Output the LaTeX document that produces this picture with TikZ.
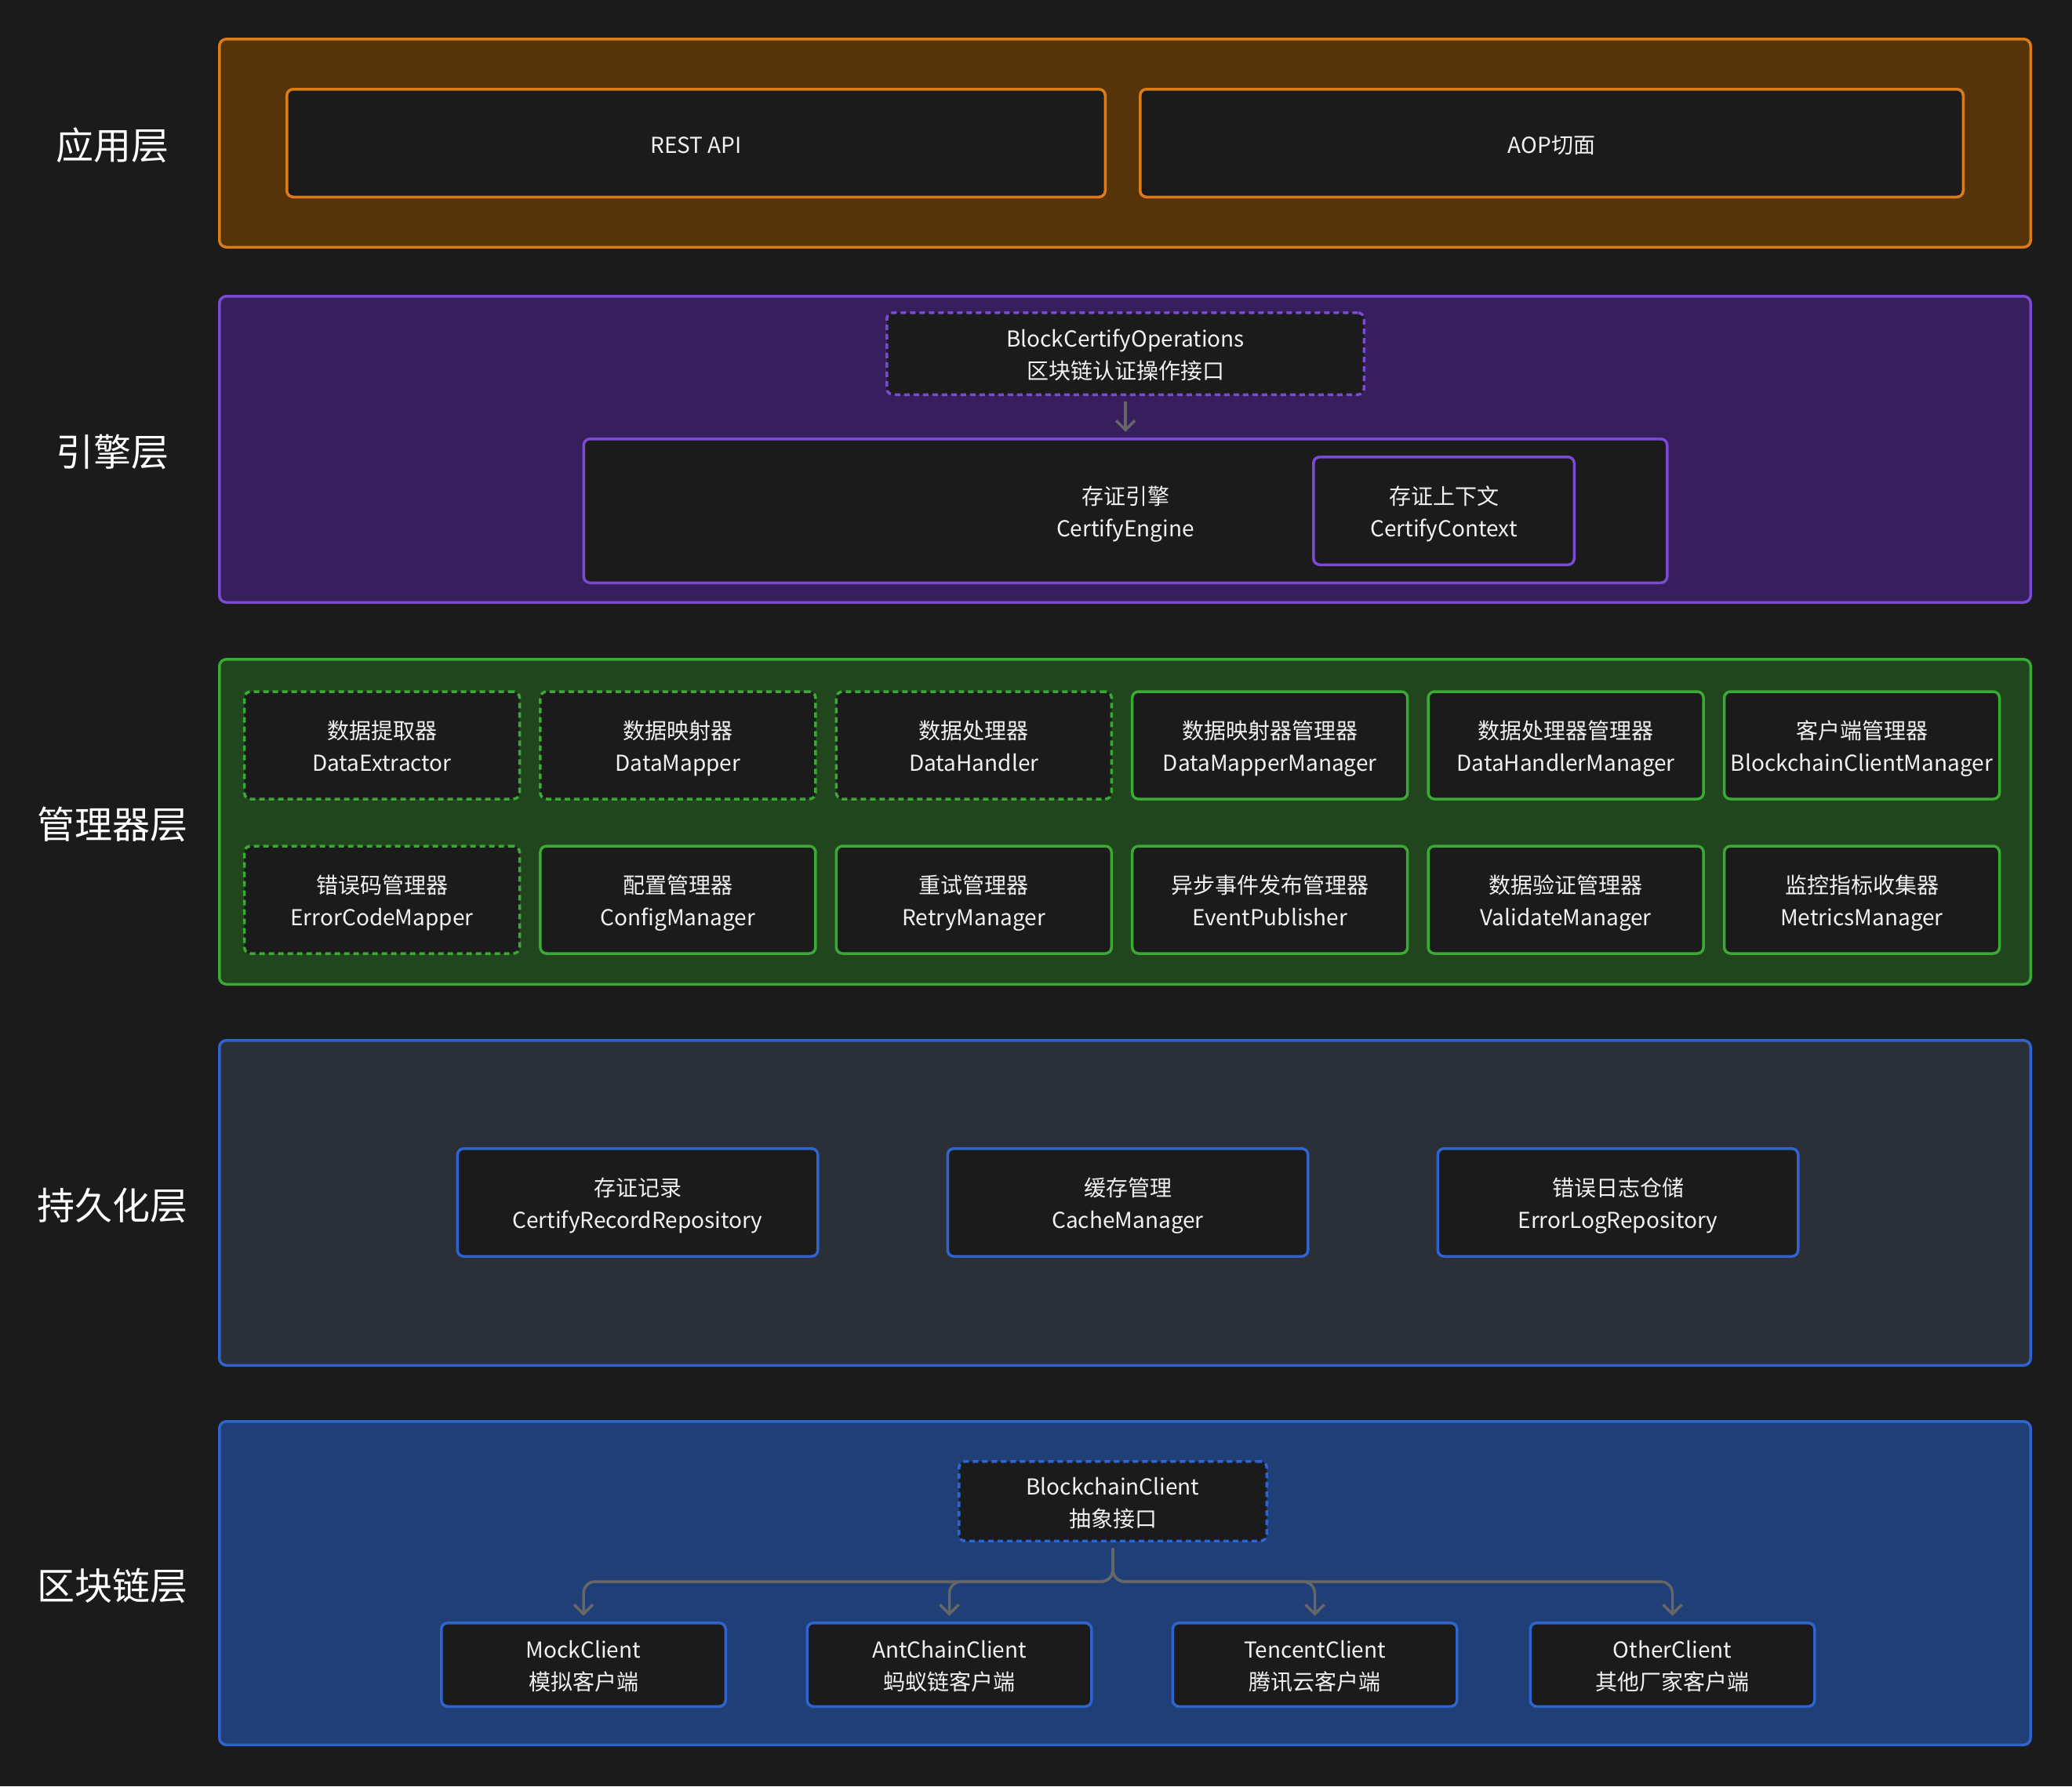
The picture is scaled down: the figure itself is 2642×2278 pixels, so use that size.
\documentclass[tikz,border=0pt]{standalone}
\usepackage{fontspec}
\setmainfont{Noto Sans CJK SC}
\usepackage{tikz}
\usetikzlibrary{positioning, arrows.meta}
\definecolor{bgdark}{HTML}{1B1B1B}
\definecolor{boxbg}{HTML}{1B1B1B}
\definecolor{boxtext}{HTML}{F2F2F2}
\definecolor{appline}{HTML}{DB7C18}
\definecolor{appfill}{HTML}{56340A}
\definecolor{engline}{HTML}{7B4AD2}
\definecolor{engfill}{HTML}{371E5D}
\definecolor{mgrline}{HTML}{3AAA35}
\definecolor{mgrfill}{HTML}{21461E}
\definecolor{bluline}{HTML}{2F63CD}
\definecolor{perfill}{HTML}{2B2F38}
\definecolor{chfill}{HTML}{213F77}
\definecolor{linkgray}{HTML}{666666}
\newcommand{\boxfont}{\fontsize{28}{41}\selectfont}
\newcommand{\tagfont}{\fontsize{48}{56}\selectfont}

\begin{document}
\begin{tikzpicture}
        [
            x=1pt, y=-1pt,
            layer/.style={rectangle, rounded corners=9pt, line width=3.5pt,
                          minimum width=2309.5pt, outer sep=0pt},
            box/.style={rectangle, rounded corners=8pt, line width=3.5pt,
                        fill=boxbg, text=boxtext, align=center, font=\boxfont,
                        inner sep=0pt, outer sep=0pt,
                        execute at begin node={\rule{0pt}{#1}},
                        execute at end node={\rule[-10pt]{0pt}{0pt}}},
            box/.default=75.4pt,
            dashedge/.style={dash pattern=on 7pt off 5pt},
            mgr/.style={box, draw=mgrline, minimum width=351pt, minimum height=137pt},
            repo/.style={box, draw=bluline, minimum width=459.5pt, minimum height=137.5pt},
            client/.style={box, draw=bluline, minimum width=362.5pt, minimum height=106.5pt},
            tag/.style={text=white, font=\tagfont, inner sep=0pt,
                        execute at begin node={\rule{0pt}{50.4pt}},
                        execute at end node={\rule[-8pt]{0pt}{0pt}}},
            link/.style={draw=linkgray, line width=3.5pt,
                         -{Straight Barb[length=12pt, width=24pt]},
                         shorten <=9pt, shorten >=9pt, rounded corners=15pt}
        ]
        \fill [bgdark] (0,0) rectangle (2642,2278);
        \useasboundingbox (0,0) rectangle (2642,2278);

        \node (appl) [layer, draw=appline, fill=appfill, minimum height=265.5pt] at (1434.5,182.5) {};
        \node (engl) [layer, draw=engline, fill=engfill, minimum height=390.5pt] at (1434.5,573) {};
        \node (mgrl) [layer, draw=mgrline, fill=mgrfill, minimum height=414.5pt] at (1434.5,1048) {};
        \node (perl) [layer, draw=bluline, fill=perfill, minimum height=414.5pt] at (1434.5,1534) {};
        \node (chl) [layer, draw=bluline, fill=chfill, minimum height=412.5pt] at (1434.5,2019) {};

        \node (appt) [tag] at (143,182.5) {应用层};
        \node (engt) [tag] at (143,573) {引擎层};
        \node (mgrt) [tag] at (143,1048) {管理器层};
        \node (pert) [tag] at (143,1534) {持久化层};
        \node (cht) [tag] at (143,2019) {区块链层};

        \node (rest) [box=35pt, draw=appline, minimum width=1043.5pt, minimum height=137.5pt] at (887.5,182.5) {REST API};
        \node (aop) [box=35pt, draw=appline, minimum width=1049.5pt, minimum height=137.5pt] at (1978.5,182.5) {AOP切面};

        \node (ops) [box, dashedge, draw=engline, minimum width=608.5pt, minimum height=104.5pt] at (1435,451) {BlockCertifyOperations\\区块链认证操作接口};
        \node (eng) [box, draw=engline, minimum width=1381.5pt, minimum height=183.5pt] at (1435,651.5) {存证引擎\\CertifyEngine};
        \node (ctx) [box, draw=engline, minimum width=332.5pt, minimum height=137.5pt] at (1841,651.5) {存证上下文\\CertifyContext};
        \draw [link] (ops) -- (eng);

        \node (m1) [mgr, dashedge] at (487,950.5) {数据提取器\\DataExtractor};
        \node (m2) [mgr, dashedge, right=26.4pt of m1] {数据映射器\\DataMapper};
        \node (m3) [mgr, dashedge, right=26.4pt of m2] {数据处理器\\DataHandler};
        \node (m4) [mgr, right=26.4pt of m3] {数据映射器管理器\\DataMapperManager};
        \node (m5) [mgr, right=26.4pt of m4] {数据处理器管理器\\DataHandlerManager};
        \node (m6) [mgr, right=26.4pt of m5] {客户端管理器\\BlockchainClientManager};
        \node (m7) [mgr, dashedge, below=60pt of m1] {错误码管理器\\ErrorCodeMapper};
        \node (m8) [mgr, right=26.4pt of m7] {配置管理器\\ConfigManager};
        \node (m9) [mgr, right=26.4pt of m8] {重试管理器\\RetryManager};
        \node (m10) [mgr, right=26.4pt of m9] {异步事件发布管理器\\EventPublisher};
        \node (m11) [mgr, right=26.4pt of m10] {数据验证管理器\\ValidateManager};
        \node (m12) [mgr, right=26.4pt of m11] {监控指标收集器\\MetricsManager};

        \node (p1) [repo] at (813,1533.5) {存证记录\\CertifyRecordRepository};
        \node (p2) [repo, right=165.5pt of p1] {缓存管理\\CacheManager};
        \node (p3) [repo, right=165.5pt of p2] {错误日志仓储\\ErrorLogRepository};

        \node (bc) [client, dashedge, minimum width=392.5pt, minimum height=101.5pt] at (1419,1914.5) {BlockchainClient\\抽象接口};
        \node (mock) [client] at (744,2123) {MockClient\\模拟客户端};
        \node (ant) [client] at (1210.5,2123) {AntChainClient\\蚂蚁链客户端};
        \node (tencent) [client] at (1676.5,2123) {TencentClient\\腾讯云客户端};
        \node (other) [client] at (2132.5,2123) {OtherClient\\其他厂家客户端};
        \coordinate (bus) at (1419,2017);
        \foreach \c in {mock,ant,tencent,other}
            \draw [link] (bc) -- (bc |- bus) -| (\c);
    \end{tikzpicture}
\end{document}
